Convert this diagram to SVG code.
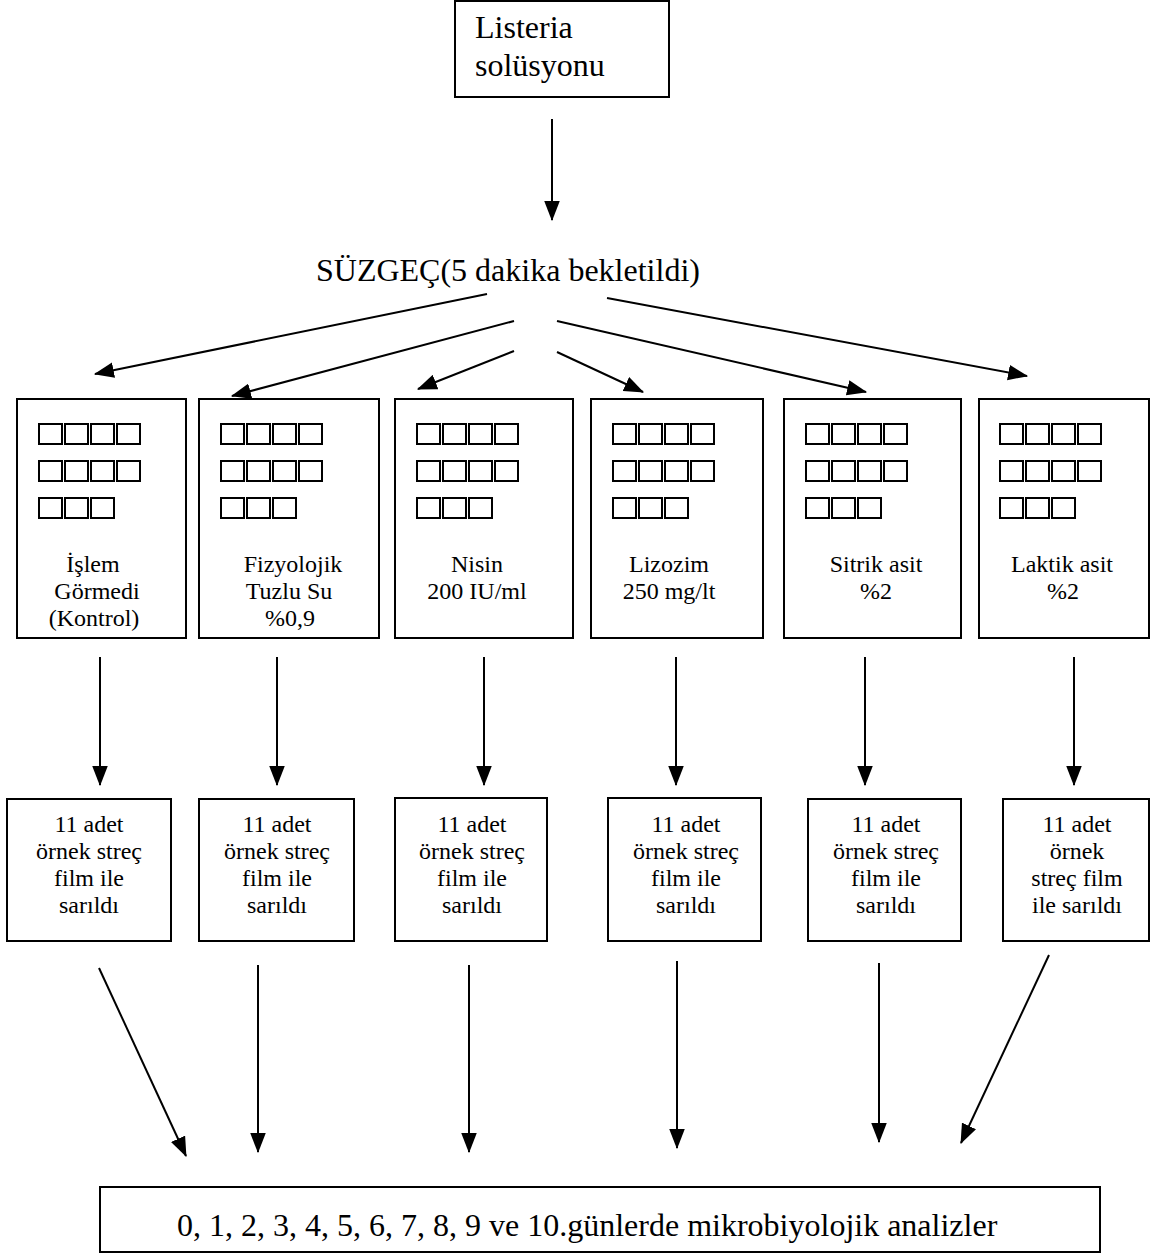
<svg xmlns="http://www.w3.org/2000/svg" xmlns:xlink="http://www.w3.org/1999/xlink" width="1162" height="1254" viewBox="0 0 1162 1254">
<style>
.box{fill:#fff;stroke:#000;stroke-width:2}
.sq{fill:none;stroke:#000;stroke-width:2}
.t{font-family:"Liberation Serif","Times New Roman",serif;fill:#000}
.big{font-size:32px}
.mid{font-size:24px;text-anchor:middle}
.con{stroke:#000;stroke-width:2;fill:none;marker-end:url(#ah)}
</style>
<defs>
<marker id="ah" markerUnits="userSpaceOnUse" markerWidth="20" markerHeight="16" viewBox="0 0 18 14" refX="17" refY="7" orient="auto">
<path d="M0,0 L18,7 L0,14 z" fill="#000"/>
</marker>
<g id="grid">
<rect class="sq" x="1" y="1" width="23" height="20"/>
<rect class="sq" x="27" y="1" width="23" height="20"/>
<rect class="sq" x="53" y="1" width="23" height="20"/>
<rect class="sq" x="79" y="1" width="23" height="20"/>
<rect class="sq" x="1" y="38" width="23" height="20"/>
<rect class="sq" x="27" y="38" width="23" height="20"/>
<rect class="sq" x="53" y="38" width="23" height="20"/>
<rect class="sq" x="79" y="38" width="23" height="20"/>
<rect class="sq" x="1" y="75" width="23" height="20"/>
<rect class="sq" x="27" y="75" width="23" height="20"/>
<rect class="sq" x="53" y="75" width="23" height="20"/>
</g>
</defs>
<rect width="1162" height="1254" fill="#fff"/>

<g id="connectors">
<line class="con" x1="552" y1="119" x2="552" y2="220"/>
<line class="con" x1="487" y1="294" x2="95" y2="374"/>
<line class="con" x1="514" y1="321" x2="232" y2="396"/>
<line class="con" x1="514" y1="351" x2="418" y2="389"/>
<line class="con" x1="557" y1="352" x2="643" y2="392"/>
<line class="con" x1="557" y1="321" x2="866" y2="392"/>
<line class="con" x1="607" y1="298" x2="1027" y2="376"/>
<line class="con" x1="100" y1="657" x2="100" y2="785"/>
<line class="con" x1="277" y1="657" x2="277" y2="785"/>
<line class="con" x1="484" y1="657" x2="484" y2="785"/>
<line class="con" x1="676" y1="657" x2="676" y2="785"/>
<line class="con" x1="865" y1="657" x2="865" y2="785"/>
<line class="con" x1="1074" y1="657" x2="1074" y2="785"/>
<line class="con" x1="99" y1="968" x2="186" y2="1156"/>
<line class="con" x1="258" y1="965" x2="258" y2="1152"/>
<line class="con" x1="469" y1="965" x2="469" y2="1152"/>
<line class="con" x1="677" y1="961" x2="677" y2="1148"/>
<line class="con" x1="879" y1="963" x2="879" y2="1142"/>
<line class="con" x1="1049" y1="955" x2="961" y2="1143"/>
</g>

<g id="listeria">
<rect class="box" x="455" y="1" width="214" height="96"/>
<text class="t big" x="475" y="38">Listeria</text>
<text class="t big" x="475" y="76">solüsyonu</text>
</g>

<g id="suzgec">
<text class="t big" x="316" y="281">SÜZGEÇ(5 dakika bekletildi)</text>
</g>

<g id="t1">
<rect class="box" x="17" y="399" width="169" height="239"/>
<use xlink:href="#grid" x="38" y="423"/>
<text class="t mid" x="93" y="572">İşlem</text>
<text class="t mid" x="97" y="599">Görmedi</text>
<text class="t mid" x="94" y="626">(Kontrol)</text>
</g>
<g id="t2">
<rect class="box" x="199" y="399" width="180" height="239"/>
<use xlink:href="#grid" x="220" y="423"/>
<text class="t mid" x="293" y="572">Fizyolojik</text>
<text class="t mid" x="289" y="599">Tuzlu Su</text>
<text class="t mid" x="290" y="626">%0,9</text>
</g>
<g id="t3">
<rect class="box" x="395" y="399" width="178" height="239"/>
<use xlink:href="#grid" x="416" y="423"/>
<text class="t mid" x="477" y="572">Nisin</text>
<text class="t mid" x="477" y="599">200 IU/ml</text>
</g>
<g id="t4">
<rect class="box" x="591" y="399" width="172" height="239"/>
<use xlink:href="#grid" x="612" y="423"/>
<text class="t mid" x="669" y="572">Lizozim</text>
<text class="t mid" x="669" y="599">250 mg/lt</text>
</g>
<g id="t5">
<rect class="box" x="784" y="399" width="177" height="239"/>
<use xlink:href="#grid" x="805" y="423"/>
<text class="t mid" x="876" y="572">Sitrik asit</text>
<text class="t mid" x="876" y="599">%2</text>
</g>
<g id="t6">
<rect class="box" x="979" y="399" width="170" height="239"/>
<use xlink:href="#grid" x="999" y="423"/>
<text class="t mid" x="1062" y="572">Laktik asit</text>
<text class="t mid" x="1063" y="599">%2</text>
</g>

<g id="s1">
<rect class="box" x="7" y="799" width="164" height="142"/>
<text class="t mid" x="89" y="832">11 adet</text>
<text class="t mid" x="89" y="859">örnek streç</text>
<text class="t mid" x="89" y="886">film ile</text>
<text class="t mid" x="89" y="913">sarıldı</text>
</g>
<g id="s2">
<rect class="box" x="199" y="799" width="155" height="142"/>
<text class="t mid" x="277" y="832">11 adet</text>
<text class="t mid" x="277" y="859">örnek streç</text>
<text class="t mid" x="277" y="886">film ile</text>
<text class="t mid" x="277" y="913">sarıldı</text>
</g>
<g id="s3">
<rect class="box" x="395" y="798" width="152" height="143"/>
<text class="t mid" x="472" y="832">11 adet</text>
<text class="t mid" x="472" y="859">örnek streç</text>
<text class="t mid" x="472" y="886">film ile</text>
<text class="t mid" x="472" y="913">sarıldı</text>
</g>
<g id="s4">
<rect class="box" x="608" y="798" width="153" height="143"/>
<text class="t mid" x="686" y="832">11 adet</text>
<text class="t mid" x="686" y="859">örnek streç</text>
<text class="t mid" x="686" y="886">film ile</text>
<text class="t mid" x="686" y="913">sarıldı</text>
</g>
<g id="s5">
<rect class="box" x="808" y="799" width="153" height="142"/>
<text class="t mid" x="886" y="832">11 adet</text>
<text class="t mid" x="886" y="859">örnek streç</text>
<text class="t mid" x="886" y="886">film ile</text>
<text class="t mid" x="886" y="913">sarıldı</text>
</g>
<g id="s6">
<rect class="box" x="1003" y="799" width="146" height="142"/>
<text class="t mid" x="1077" y="832">11 adet</text>
<text class="t mid" x="1077" y="859">örnek</text>
<text class="t mid" x="1077" y="886">streç film</text>
<text class="t mid" x="1077" y="913">ile sarıldı</text>
</g>

<g id="analiz">
<rect class="box" x="100" y="1187" width="1000" height="65"/>
<text class="t big" x="177" y="1236">0, 1, 2, 3, 4, 5, 6, 7, 8, 9 ve 10.günlerde mikrobiyolojik analizler</text>
</g>
</svg>
